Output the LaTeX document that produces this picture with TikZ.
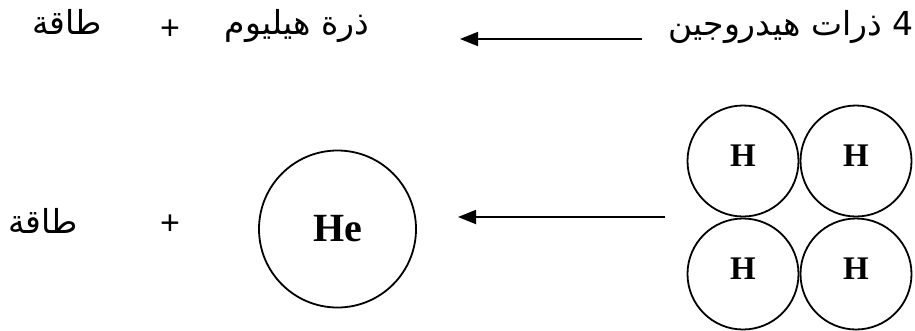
\documentclass[tikz,border=0pt]{standalone}
\usepackage{fontspec}
\setmainfont{Liberation Serif}
\newfontfamily\arabicfont[Script=Arabic]{DejaVu Sans}
\newfontfamily\plusfont{Liberation Sans}
\TeXXeTstate=1
\usetikzlibrary{positioning, arrows.meta}
\tikzset{
  atom/.style={
    draw, circle, line width=1.8pt,
    minimum size=111pt, inner sep=0pt, text depth=10pt,
    font=\fontsize{33}{38}\selectfont\bfseries
  },
  bigatom/.style={
    draw, circle, line width=1.8pt,
    minimum size=157pt, inner sep=0pt,
    font=\fontsize{40}{46}\selectfont\bfseries
  },
  artxt/.style={anchor=base, inner sep=0pt, font=\fontsize{33}{40}\selectfont\arabicfont},
  plus/.style={inner sep=0pt, font=\fontsize{34}{40}\selectfont\plusfont},
  harr/.style={-{Triangle[length=18pt, width=14pt]}, line width=1.8pt},
}
\begin{document}
\begin{tikzpicture}[x=1pt, y=-1pt]
  \useasboundingbox (0,0) rectangle (915,330);
  \node[artxt] (hyd) at (791,35) {\beginR 4 ذرات هيدروجين\endR};
  \node[artxt] (hel) at (297,34) {\beginR ذرة هيليوم\endR};
  \node[plus] (plt) at (170,30) {+};
  \node[artxt] (ent) at (67,34) {\beginR طاقة\endR};
  \coordinate (ts) at (642,39);
  \coordinate (te) at (460,39);
  \draw[harr] (ts) -- (te);
  \node[atom] (h1) at (743,161) {H};
  \node[atom] (h2) at (856,161) {H};
  \node[atom] (h3) at (743,274) {H};
  \node[atom] (h4) at (856,274) {H};
  \node[bigatom] (he) at (337.5,229) {He};
  \node[plus] (plb) at (170,225) {+};
  \node[artxt] (enb) at (43,233) {\beginR طاقة\endR};
  \coordinate (bs) at (665,217);
  \coordinate (be) at (458,217);
  \draw[harr] (bs) -- (be);
\end{tikzpicture}
\end{document}
